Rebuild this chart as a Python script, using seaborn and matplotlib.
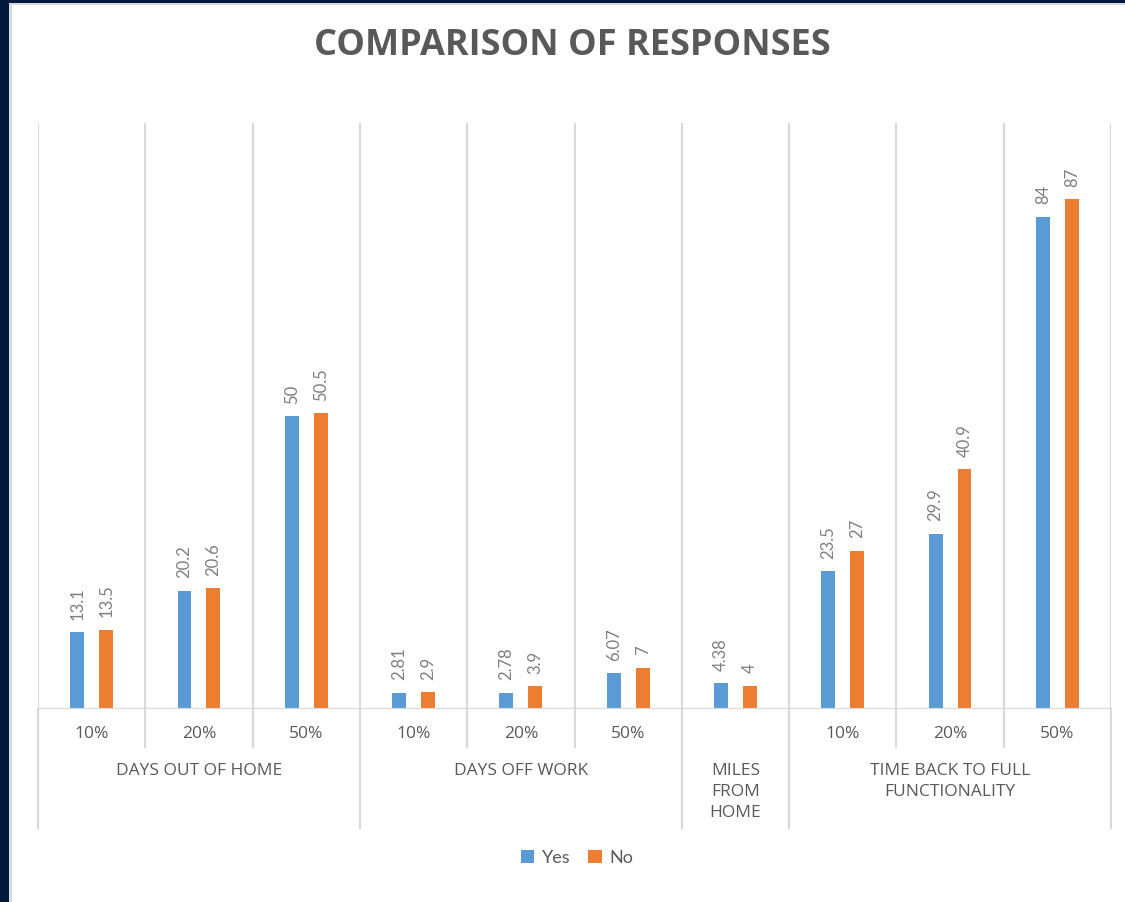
import matplotlib
matplotlib.use("Agg")
import matplotlib.pyplot as plt
import matplotlib.transforms as mtransforms
from matplotlib.patches import Rectangle, Patch
import seaborn as sns
import pandas as pd

# ---- data ----
categories = ["DOH 10%", "DOH 20%", "DOH 50%",
              "DOW 10%", "DOW 20%", "DOW 50%",
              "MFH",
              "TBF 10%", "TBF 20%", "TBF 50%"]
tick_labels = ["10%", "20%", "50%", "10%", "20%", "50%", "", "10%", "20%", "50%"]
yes_values = [13.1, 20.2, 50, 2.81, 2.78, 6.07, 4.38, 23.5, 29.9, 84]
no_values = [13.5, 20.6, 50.5, 2.9, 3.9, 7, 4, 27, 40.9, 87]
yes_labels = ["13.1", "20.2", "50", "2.81", "2.78", "6.07", "4.38", "23.5", "29.9", "84"]
no_labels = ["13.5", "20.6", "50.5", "2.9", "3.9", "7", "4", "27", "40.9", "87"]
groups = ["DAYS OUT OF HOME", "DAYS OFF WORK", "MILES\nFROM\nHOME",
          "TIME BACK TO FULL\nFUNCTIONALITY"]
group_sizes = [3, 3, 1, 3]
series = ["Yes", "No"]
colors = ["#5B9BD5", "#ED7D31"]

df = pd.DataFrame({
    "category": categories * 2,
    "value": yes_values + no_values,
    "series": ["Yes"] * len(categories) + ["No"] * len(categories),
})

W, H = 1125, 902
fig = plt.figure(figsize=(W / 100, H / 100), dpi=100)
fig.patch.set_facecolor("white")
plt.rcParams["font.family"] = ["Lato", "DejaVu Sans"]
axis_font = ["Open Sans", "DejaVu Sans"]

ax = fig.add_axes([38 / W, 1 - 709 / H, (1111 - 38) / W, (709 - 123) / H])
sns.barplot(data=df, x="category", y="value", hue="series", order=categories,
            hue_order=series, palette=colors, width=0.54, gap=0.52,
            saturation=1, ax=ax, legend=False, linewidth=0)

ax.set_ylim(0, 100)
ax.set_xlim(-0.5, len(categories) - 0.5)
for s in ax.spines.values():
    s.set_visible(False)
ax.set_yticks([])
ax.set_xlabel("")
ax.set_ylabel("")
ax.set_xticks(range(len(categories)))
ax.set_xticklabels(tick_labels, fontsize=12.5, color="#595959", family=axis_font)
ax.tick_params(axis="x", length=0, pad=12)

grid_c = "#D9D9D9"
for b in [i - 0.5 for i in range(len(categories) + 1)]:
    ax.axvline(b, color=grid_c, lw=1.6, zorder=0)
ax.axhline(0, color=grid_c, lw=1.6, zorder=3)

trans = mtransforms.blended_transform_factory(ax.transData, ax.transAxes)
ax_h = 709 - 123
y_tick_sep = -(747 - 709) / ax_h
y_group_sep = -(828 - 709) / ax_h

start = 0
group_bounds = [-0.5]
group_centers = []
for g in group_sizes:
    group_centers.append(start + (g - 1) / 2)
    start += g
    group_bounds.append(start - 0.5)
for b in [i - 0.5 for i in range(len(categories) + 1)]:
    yb = y_group_sep if b in group_bounds else y_tick_sep
    ax.plot([b, b], [0, yb], transform=trans, color=grid_c, lw=1.6, clip_on=False)

for c, lab in zip(group_centers, groups):
    ax.text(c, -(763 - 709) / ax_h, lab, transform=trans, ha="center", va="top",
            fontsize=12.5, color="#595959", linespacing=1.42, multialignment="center",
            family=axis_font)

for cont, labs in zip(ax.containers, [yes_labels, no_labels]):
    for bar, lab in zip(cont, labs):
        ax.annotate(lab, (bar.get_x() + bar.get_width() / 2, bar.get_height()),
                    xytext=(0, 9), textcoords="offset points", rotation=90,
                    ha="center", va="bottom", fontsize=12, color="#7F7F7F")

fig.text(572 / W, 1 - 46 / H, "COMPARISON OF RESPONSES", ha="center", va="center",
         fontsize=26, fontweight="bold", color="#595959", family=axis_font)

handles = [Patch(facecolor=colors[0], label="Yes"), Patch(facecolor=colors[1], label="No")]
leg = fig.legend(handles=handles, loc="center", bbox_to_anchor=(577 / W, 1 - 858 / H),
                 ncol=2, frameon=False, fontsize=13, handlelength=0.75,
                 handleheight=0.75, handletextpad=0.4, columnspacing=1.0)
for t in leg.get_texts():
    t.set_color("#595959")

navy = "#021B3C"
fig.patches.append(Rectangle((0, 0), 9 / W, 1, transform=fig.transFigure,
                             facecolor=navy, edgecolor="none", zorder=10))
fig.patches.append(Rectangle((0, 1 - 3 / H), 1, 3 / H, transform=fig.transFigure,
                             facecolor=navy, edgecolor="none", zorder=10))
fig.patches.append(Rectangle((9 / W, 0), 3 / W, 1 - 3 / H, transform=fig.transFigure,
                             facecolor="#D9D9D9", edgecolor="none", zorder=9))
fig.patches.append(Rectangle((9 / W, 1 - 5 / H), 1, 2 / H, transform=fig.transFigure,
                             facecolor="#D9D9D9", edgecolor="none", zorder=9))

fig.savefig("out.png", dpi=100)
